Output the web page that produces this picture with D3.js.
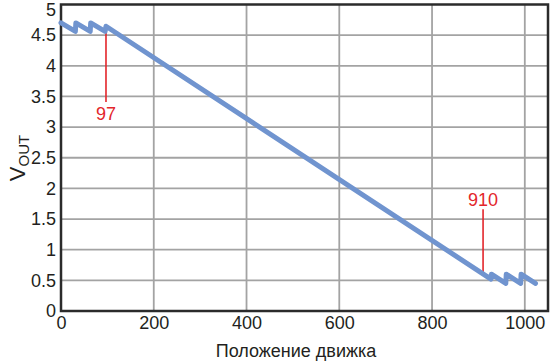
<!DOCTYPE html>
<html>
<head>
<meta charset="utf-8">
<script src="https://cdn.jsdelivr.net/npm/d3@7"></script>
<style>
  body { margin: 0; background: #fff; }
  text { font-family: "Liberation Sans", Arial, sans-serif; fill: #231f20; }
</style>
</head>
<body>
<script>
// wiper position vs output voltage
var position = [0, 31, 32, 63, 64, 95, 97, 927, 928, 959, 960, 991, 992, 1023];
var vout = [4.70, 4.56, 4.70, 4.56, 4.70, 4.56, 4.645, 0.52, 0.60, 0.45, 0.60, 0.45, 0.60, 0.45];

var xTicks = [0, 200, 400, 600, 800, 1000];
var yTicks = [0, 0.5, 1, 1.5, 2, 2.5, 3, 3.5, 4, 4.5, 5];

// red markers: position, line from / to (volts), label centre (volts)
var markPos = [97, 910];
var markFrom = [4.62, 0.57];
var markTo = [3.41, 1.66];
var markLabelAt = [3.22, 1.81];
var markLabel = ['97', '910'];

var svg = d3.select('body').append('svg')
  .attr('width', 550)
  .attr('height', 362);

var x = d3.scaleLinear().domain([0, 1050]).range([61, 548]);
var y = d3.scaleLinear().domain([0, 5]).range([311, 4.5]);

// grid
svg.append('g').selectAll('line').data(xTicks.slice(1))
  .enter().append('line')
  .attr('x1', function(d){ return x(d) }).attr('x2', function(d){ return x(d) })
  .attr('y1', y(5)).attr('y2', y(0))
  .attr('stroke', '#a3a3a3').attr('stroke-width', 1.8);

svg.append('g').selectAll('line').data(yTicks.slice(1, -1))
  .enter().append('line')
  .attr('y1', function(d){ return y(d) }).attr('y2', function(d){ return y(d) })
  .attr('x1', x(0)).attr('x2', x(1050))
  .attr('stroke', '#a3a3a3').attr('stroke-width', 1.8);

// frame
svg.append('rect')
  .attr('x', x(0)).attr('y', y(5))
  .attr('width', x(1050) - x(0)).attr('height', y(0) - y(5))
  .attr('fill', 'none').attr('stroke', '#2b2b2b').attr('stroke-width', 2.5);

// axes labels
var fmt = function(d){ return String(d) };

var xAxis = d3.axisBottom(x).tickValues(xTicks).tickFormat(fmt).tickSize(0).tickPadding(5);
svg.append('g').attr('transform', 'translate(0,' + y(0) + ')').call(xAxis)
  .call(function(g){ g.select('.domain').remove() })
  .selectAll('text')
  .style('font-size', '18px').style('font-family', '"Liberation Sans", Arial, sans-serif').attr('fill', '#231f20');

var yAxis = d3.axisLeft(y).tickValues(yTicks).tickFormat(fmt).tickSize(0).tickPadding(5);
svg.append('g').attr('transform', 'translate(' + x(0) + ',0)').call(yAxis)
  .call(function(g){ g.select('.domain').remove() })
  .selectAll('text')
  .style('font-size', '18px').style('font-family', '"Liberation Sans", Arial, sans-serif').attr('fill', '#231f20')
  .attr('dy', function(d){ return d === 5 ? '0.62em' : '0.32em' });

// red markers
markPos.forEach(function(p, i){
  svg.append('line')
    .attr('x1', x(p)).attr('x2', x(p))
    .attr('y1', y(markFrom[i])).attr('y2', y(markTo[i]))
    .attr('stroke', '#e3262b').attr('stroke-width', 1.6);
  svg.append('text')
    .attr('x', x(p)).attr('y', y(markLabelAt[i]))
    .attr('dy', '0.35em')
    .attr('text-anchor', 'middle')
    .style('font-size', '18px').style('fill', '#e3262b')
    .text(markLabel[i]);
});

// data line
var line = d3.line()
  .x(function(d){ return x(d[0]) })
  .y(function(d){ return y(d[1]) });

svg.append('path')
  .datum(position.map(function(p, i){ return [p, vout[i]] }))
  .attr('d', line)
  .attr('fill', 'none')
  .attr('stroke', '#7094cf')
  .attr('stroke-width', 5)
  .attr('stroke-linecap', 'round')
  .attr('stroke-linejoin', 'round');

// titles
svg.append('text')
  .attr('x', 296).attr('y', 357)
  .attr('text-anchor', 'middle')
  .style('font-size', '18px')
  .text('Положение движка');

var yt = svg.append('text')
  .attr('transform', 'translate(25,158) rotate(-90)')
  .attr('text-anchor', 'middle');
yt.append('tspan').style('font-size', '22px').text('V');
yt.append('tspan').style('font-size', '15px').attr('dy', 4).text('OUT');
</script>
</body>
</html>
